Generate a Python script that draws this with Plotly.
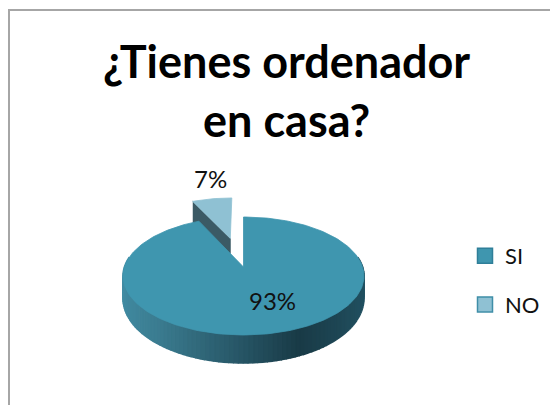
import numpy as np
import plotly.graph_objects as go

title_text = "<b>¿Tienes ordenador<br>en casa?</b>"
labels = ["SI", "NO"]
values = [93, 7]
top_colors = ["#3f96af", "#8fc1d3"]
FONT = "Lato"

# pie geometry, in pixels of the 550x405 page
CX, APEX_Y = 243.5, 267.0
PERSP = -0.1525
KX, KY = 119.1, 16.9
EXPLODE = 0.55
NO_RADIUS = 0.93
NO_DEPTH_OUTER, NO_DEPTH_INNER = 22, 15

shares = np.array(values) / sum(values) * 360.0


def project(u, v):
    den = 1 + PERSP * v
    return CX + KX * u / den, (KY * v + APEX_Y) / den


def circle(start, end, n=80):
    th = np.radians(np.linspace(start, end, n))
    return np.sin(th), -np.cos(th)


def depth(v):
    return 21 + 7 * v


def poly(xs, ys, color, width=0.8):
    return go.Scatter(
        x=xs,
        y=ys,
        mode="lines",
        fill="toself",
        fillcolor=color,
        line=dict(color=color, width=width),
        hoverinfo="skip",
        showlegend=False,
    )


def rim_color(u):
    stops_u = [-1.0, -0.6, 0.0, 0.4, 1.0]
    r = np.interp(u, stops_u, [66, 58, 38, 25, 34])
    g = np.interp(u, stops_u, [140, 122, 84, 58, 82])
    b = np.interp(u, stops_u, [163, 142, 100, 70, 98])
    return f"rgb({r:.0f},{g:.0f},{b:.0f})"


fig = go.Figure()

# NO slice, pulled out along its bisector
no_start = shares[0]
no_mid = np.radians(no_start + shares[1] / 2)
ex, ey = EXPLODE * np.sin(no_mid), -EXPLODE * np.cos(no_mid)
uo, vo = circle(no_start, 360.0, 20)
x_apex, y_apex = project(np.array([ex]), np.array([ey]))
x_edge, y_edge = project(NO_RADIUS * uo + ex, NO_RADIUS * vo + ey)

# dark cut face on the left of the slice
x_left, y_left = x_edge[0], y_edge[0]
fig.add_trace(
    poly(
        [x_left, x_apex[0], x_apex[0], x_left],
        [
            y_left,
            y_apex[0],
            y_apex[0] + NO_DEPTH_INNER,
            y_left + NO_DEPTH_OUTER,
        ],
        "#3b5a65",
    )
)
fig.add_trace(
    poly(
        np.r_[x_apex, x_edge, x_apex],
        np.r_[y_apex, y_edge, y_apex],
        top_colors[1],
    )
)

# front rim of the SI slice, one strip per step so the shade can change
rim = np.linspace(80, 280, 101)
for a, b in zip(rim[:-1], rim[1:]):
    u, v = circle(a, b, 4)
    x, y = project(u, v)
    d = depth(v)
    fig.add_trace(
        poly(np.r_[x, x[::-1]], np.r_[y, (y + d)[::-1]], rim_color(u.mean()), 1.6)
    )

# top face of the SI slice
u, v = circle(0.0, shares[0], 240)
x, y = project(u, v)
x0, y0 = project(np.array([0.0]), np.array([0.0]))
fig.add_trace(poly(np.r_[x0, x, x0], np.r_[y0, y, y0], top_colors[0]))

# legend entries only
for name, color, edge in zip(labels, top_colors, ["#2f7f99", "#3f8ea8"]):
    fig.add_trace(
        go.Scatter(
            x=[None],
            y=[None],
            mode="markers",
            name=name,
            legendgroup=name,
            marker=dict(
                symbol="square", size=15, color=color, line=dict(color=edge, width=1.5)
            ),
        )
    )

fig.add_annotation(
    x=272, y=300, text=f"{values[0]}%", showarrow=False,
    font=dict(family=FONT, size=24, color="#111111"),
)
fig.add_annotation(
    x=210, y=178, text=f"{values[1]}%", showarrow=False,
    font=dict(family=FONT, size=24, color="#111111"),
)
fig.add_annotation(
    x=286, y=90, text=title_text, showarrow=False, align="center",
    font=dict(family=FONT, size=45, color="#000000"),
)

fig.add_shape(
    type="rect", x0=9, y0=10, x1=600, y1=450,
    line=dict(color="#a6a6a6", width=2), layer="below",
)

fig.update_layout(
    width=550,
    height=405,
    margin=dict(l=0, r=0, t=0, b=0),
    paper_bgcolor="white",
    plot_bgcolor="white",
    xaxis=dict(range=[0, 550], visible=False, fixedrange=True),
    yaxis=dict(range=[405, 0], visible=False, fixedrange=True),
    legend=dict(
        x=465 / 550,
        y=1 - 235 / 405,
        xanchor="left",
        yanchor="top",
        tracegroupgap=17,
        font=dict(family=FONT, size=22, color="#111111"),
        bgcolor="rgba(0,0,0,0)",
        itemwidth=30,
    ),
    showlegend=True,
)

# the page's default body margin would push the figure 8px off the window
fig.write_html(
    "out.html",
    config=dict(displayModeBar=False),
    post_script="document.body.style.margin='0';",
)
